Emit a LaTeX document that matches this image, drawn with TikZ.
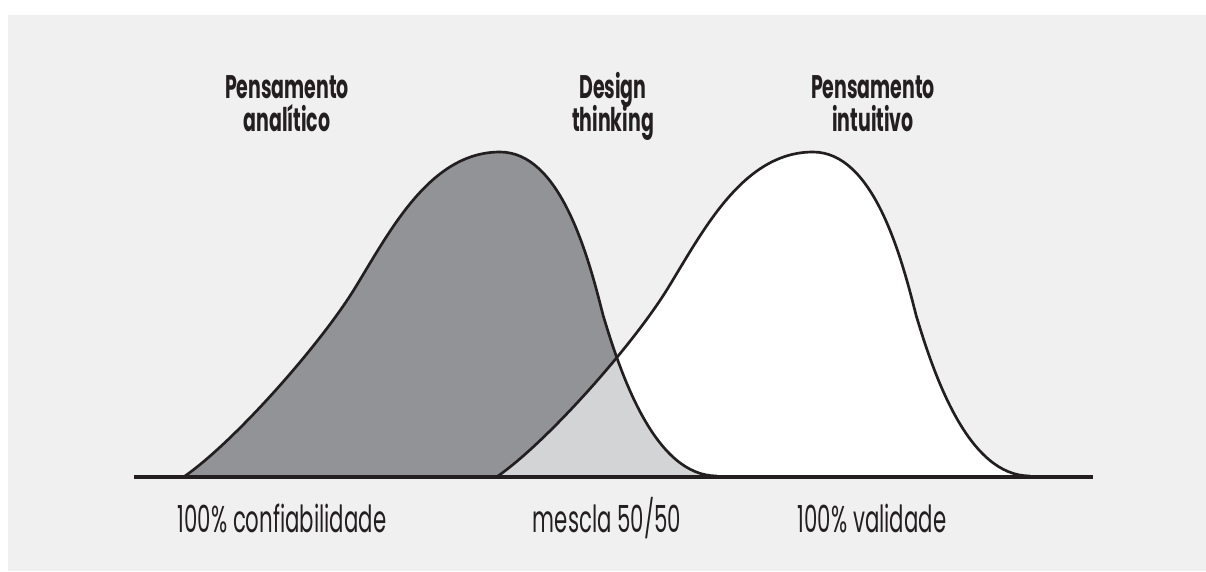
\documentclass[tikz,border=0pt]{standalone}
\usepackage{fontspec}
\setmainfont{Poppins}[FakeStretch=0.57]
\newfontfamily\titlefont{Poppins}[FakeStretch=0.58]
\definecolor{bgc}{HTML}{F0F0F0}
\definecolor{darkfill}{HTML}{929396}
\definecolor{lightfill}{HTML}{D3D4D6}
\definecolor{ink}{HTML}{231F20}
\tikzset{
  curveline/.style={draw=ink, line width=2pt},
  axisline/.style={draw=ink, line width=3pt},
  titletext/.style={anchor=base, text=ink, font=\titlefont\bfseries\fontsize{24.5}{29}\selectfont, inner sep=0pt},
  labeltext/.style={anchor=base, text=ink, font=\fontsize{28}{32}\selectfont, inner sep=0pt}
}
\def\bellpath{(185,476) .. controls (235,441) and (320,345) .. (355,288) .. controls (390,231) and (430,152) .. (500,152) .. controls (560,152) and (588,255) .. (603,315) .. controls (621,375) and (655,476) .. (717,476)}
\begin{document}
\begin{tikzpicture}[x=0.75pt, y=-0.75pt]
\useasboundingbox (0,0) rectangle (1206,571);
\fill[white] (0,0) rectangle (1206,571);
\fill[bgc] (8,15) rectangle (1206,571);
% fills
\fill[darkfill] \bellpath -- cycle;
\begin{scope}[shift={(313,0)}]
  \fill[white] \bellpath -- cycle;
\end{scope}
\begin{scope}
  \clip \bellpath -- cycle;
  \begin{scope}[shift={(313,0)}]
    \fill[lightfill] \bellpath -- cycle;
  \end{scope}
\end{scope}
% outlines
\draw[curveline] \bellpath;
\begin{scope}[shift={(313,0)}]
  \draw[curveline] \bellpath;
\end{scope}
% axis
\coordinate (axL) at (134,477);
\coordinate (axR) at (1093,477);
\draw[axisline] (axL) -- (axR);
% titles
\node[titletext] (t1a) at (287,98) {Pensamento};
\node[titletext] (t1b) at (287,131) {analítico};
\node[titletext] (t2a) at (613,98) {Design};
\node[titletext] (t2b) at (613,131) {thinking};
\node[titletext] (t3a) at (873,98) {Pensamento};
\node[titletext] (t3b) at (873,131) {intuitivo};
% labels
\node[labeltext] (l1) at (282,532) {100\% confiabilidade};
\node[labeltext] (l2) at (607,532) {mescla 50/50};
\node[labeltext] (l3) at (872,532) {100\% validade};
\end{tikzpicture}
\end{document}
